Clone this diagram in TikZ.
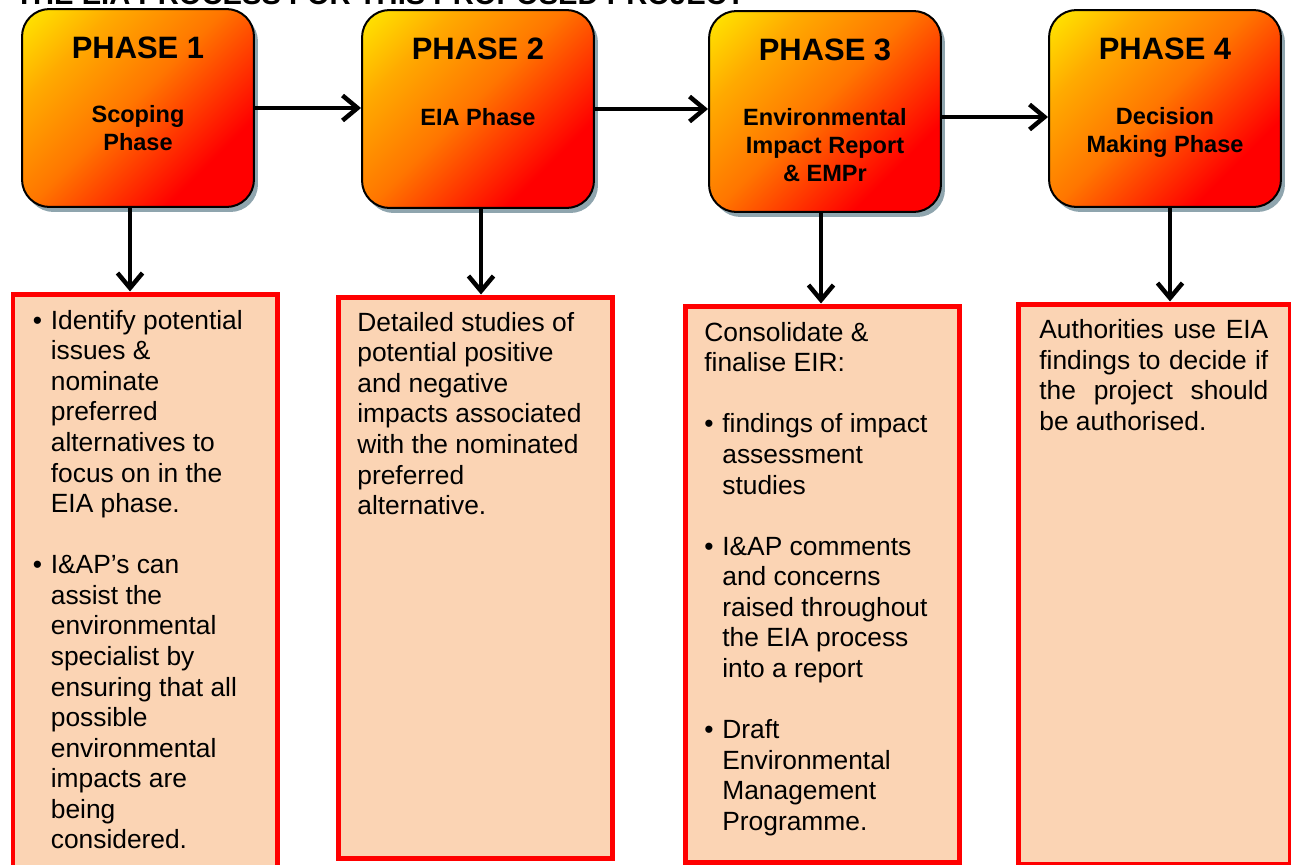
\documentclass[tikz,border=0pt]{standalone}
\usepackage{fontspec}
\setmainfont{Liberation Sans}
\usetikzlibrary{arrows.meta, shadows, calc}
\definecolor{phaseYellow}{RGB}{255, 228, 0}
\definecolor{phaseAmber}{RGB}{255, 170, 0}
\definecolor{phaseOrange}{RGB}{255, 118, 0}
\definecolor{phaseRed}{RGB}{255, 0, 0}
\definecolor{shadowGrey}{RGB}{143, 165, 174}
\definecolor{noteFill}{RGB}{251, 212, 180}
\definecolor{noteRed}{RGB}{255, 0, 0}
\pgfdeclareverticalshading{phaseShade}{100bp}{color(0bp)=(phaseRed); color(29bp)=(phaseRed);
    color(52bp)=(phaseOrange); color(70bp)=(phaseAmber); color(84bp)=(phaseYellow); color(100bp)=(phaseYellow)}
\newcommand{\bodyfont}{\fontsize{15}{17.4}\selectfont}
\newcommand{\bul}{\makebox[0.36cm][l]{\textbullet}}
\newcommand{\lScoping}{Scoping\\Phase}
\newcommand{\lEIAPhase}{EIA Phase}
\newcommand{\lReport}{Environmental\\Impact Report\\\& EMPr}
\newcommand{\lDecision}{Decision\\Making Phase}
\newcommand{\lScopingNote}{%
  \begin{tabular}{@{}l@{}l@{}}
    \bul & Identify potential\\
     & issues \&\\
     & nominate\\
     & preferred\\
     & alternatives to\\
     & focus on in the\\
     & EIA phase.\\
     & \\
    \bul & I\&AP’s can\\
     & assist the\\
     & environmental\\
     & specialist by\\
     & ensuring that all\\
     & possible\\
     & environmental\\
     & impacts are\\
     & being\\
     & considered.
  \end{tabular}}
\newcommand{\lStudiesNote}{%
  \begin{tabular}{@{}l@{}}
    Detailed studies of\\
    potential positive\\
    and negative\\
    impacts associated\\
    with the nominated\\
    preferred\\
    alternative.
  \end{tabular}}
\newcommand{\lReportNote}{%
  \begin{tabular}{@{}l@{}l@{}}
    \multicolumn{2}{@{}l@{}}{Consolidate \&}\\
    \multicolumn{2}{@{}l@{}}{finalise EIR:}\\
     & \\
    \bul & findings of impact\\
     & assessment\\
     & studies\\
     & \\
    \bul & I\&AP comments\\
     & and concerns\\
     & raised throughout\\
     & the EIA process\\
     & into a report\\
     & \\
    \bul & Draft\\
     & Environmental\\
     & Management\\
     & Programme.
  \end{tabular}}
\newcommand{\lDecisionNote}{%
  \begin{tabular}{@{}l@{}}
    \makebox[4.58cm][s]{Authorities use EIA}\\
    \makebox[4.58cm][s]{findings to decide if}\\
    \makebox[4.58cm][s]{the project should}\\
    be authorised.
  \end{tabular}}

\begin{document}
\begin{tikzpicture} [
        x=0.02cm, y=-0.02cm,
        title/.style={font=\fontsize{16.6}{20}\selectfont\bfseries, inner sep=0},
        phase/.style={draw, line width=0.04cm, rounded corners=0.55cm, minimum width=4.64cm,
            shade, shading=phaseShade, shading angle=45,
            drop shadow={shadow xshift=0.08cm, shadow yshift=-0.1cm, fill=shadowGrey, opacity=1}},
        phase head/.style={font=\fontsize{17.6}{21}\selectfont\bfseries, inner sep=0, anchor=base},
        phase sub/.style={font=\fontsize{13.4}{16.1}\selectfont\bfseries, align=center, inner sep=0, anchor=base},
        note/.style={draw=noteRed, line width=0.1cm, fill=noteFill, anchor=north west, inner sep=0},
        note text/.style={font=\bodyfont, anchor=north west, inner sep=0},
        flow/.style={line width=0.09cm, -{Straight Barb[length=0.3cm, width=0.5cm]}}
    ]

    \useasboundingbox (0,0) rectangle (1291,865);

    % heading, cut by the top edge
    \node[title, anchor=base west] (title) at (15,5) {THE EIA PROCESS FOR THIS PROPOSED PROJECT};

    % base of a sub label is its last line
    \foreach \i/\cx/\cy/\h/\sy/\sub in {1/138/108/3.96/2.86/\lScoping, 2/478/109/3.96/2.34/\lEIAPhase,
            3/825/111.5/4.02/3.44/\lReport, 4/1165/108.5/3.94/2.88/\lDecision} {
        \node[phase, minimum height=\h cm] (p\i) at (\cx,\cy) {};
        \node[phase head] (p\i head) at ([yshift=-1.0cm]p\i.north) {PHASE \i};
        \node[phase sub] (p\i sub) at ([yshift=-\sy cm]p\i.north) {\sub};
    }

    \node[note, minimum width=5.3cm, minimum height=11.77cm] (b1) at (10.5,291.5) {};
    \node[note, minimum width=5.5cm, minimum height=11.24cm] (b2) at (335.5,294.5) {};
    \node[note, minimum width=5.5cm, minimum height=11.14cm] (b3) at (682.5,303.5) {};
    \node[note, minimum width=5.45cm, minimum height=11.22cm] (b4) at (1015.5,301.5) {};

    \node[note text] (t1) at (32.5,307.5) {\lScopingNote};
    \node[note text] (t2) at (357,309.5) {\lStudiesNote};
    \node[note text] (t3) at (704,319.5) {\lReportNote};
    \node[note text] (t4) at (1039,317) {\lDecisionNote};

    \draw[flow] (p1.east) -- (p1.east -| p2.west);
    \draw[flow] (p2.east) -- (p2.east -| p3.west);
    \draw[flow] ([yshift=-0.11cm]p3.east) coordinate (a34) -- (a34 -| p4.west);

    \foreach \i/\dx in {1/-0.16, 2/0.06, 3/-0.08, 4/0.1} {
        \coordinate (d\i) at ([xshift=\dx cm]p\i.south);
        \draw[flow] (d\i) -- (d\i |- b\i.north);
    }

\end{tikzpicture}
\end{document}
